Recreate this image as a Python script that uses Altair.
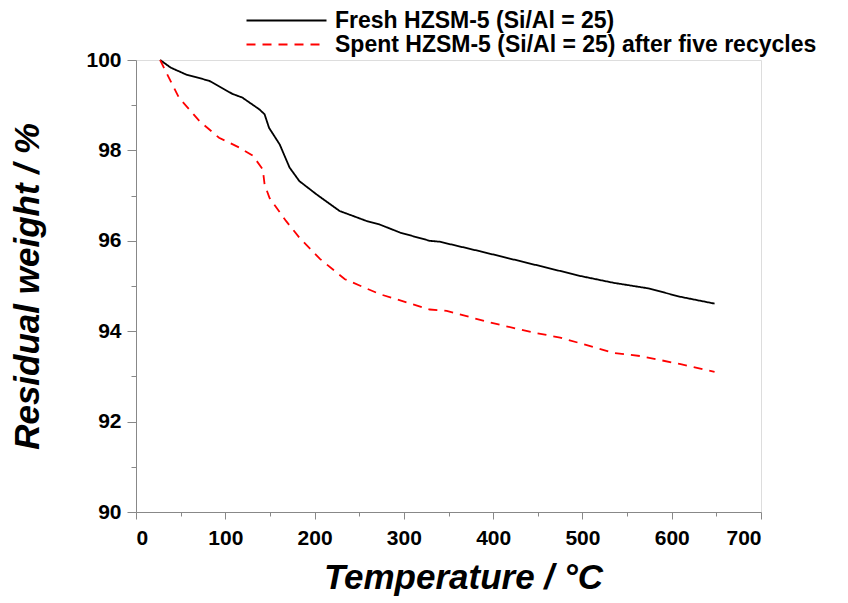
import altair as alt
import pandas as pd

fresh_label = "Fresh HZSM-5 (Si/Al = 25)"
spent_label = "Spent HZSM-5 (Si/Al = 25) after five recycles"

fresh_T = [27, 39, 56, 82, 108, 119, 138, 144, 149, 161, 172, 183, 202, 228, 258, 273, 296, 329, 340, 385, 453, 498, 535, 573, 610, 648]
fresh_W = [100, 99.83, 99.68, 99.54, 99.25, 99.17, 98.91, 98.80, 98.50, 98.13, 97.62, 97.32, 97.03, 96.66, 96.44, 96.36, 96.18, 96.0, 95.98, 95.77, 95.44, 95.22, 95.07, 94.95, 94.76, 94.61]

spent_T = [27, 33, 48, 71, 93, 116, 131, 142, 144, 149.5, 168, 183, 206, 234, 273, 329, 348, 397, 445, 475, 535, 565, 610, 648]
spent_W = [100, 99.76, 99.17, 98.65, 98.28, 98.06, 97.88, 97.58, 97.25, 96.95, 96.44, 96.07, 95.6, 95.15, 94.82, 94.48, 94.45, 94.19, 93.97, 93.86, 93.52, 93.45, 93.27, 93.10]

x_major = [0, 100, 200, 300, 400, 500, 600, 700]
x_minor = [50, 150, 250, 350, 450, 550, 650]
y_major = [90, 92, 94, 96, 98, 100]
y_minor = [91, 93, 95, 97, 99]

df = pd.concat([
    pd.DataFrame({"T": fresh_T, "W": fresh_W, "series": fresh_label, "order": range(len(fresh_T))}),
    pd.DataFrame({"T": spent_T, "W": spent_W, "series": spent_label, "order": range(len(spent_T))}),
])

FONT = "Liberation Sans"
xscale = alt.Scale(domain=[0, 700], nice=False, zero=False)
yscale = alt.Scale(domain=[90, 100], nice=False, zero=False)
domain_series = [fresh_label, spent_label]


def make_legend():
    return alt.Legend(title=None, orient="none", legendX=139, legendY=-51,
                      symbolType="M-4,0H4", symbolSize=400, symbolStrokeWidth=2,
                      symbolFillColor="transparent",
                      labelFontSize=23, labelFont=FONT, labelFontWeight="bold", labelColor="#000000",
                      labelOffset=37, rowPadding=0, labelLimit=0)


lines = alt.Chart(df).mark_line(strokeWidth=1.8, clip=False).encode(
    x=alt.X("T:Q", scale=xscale, axis=alt.Axis(
        values=x_major, orient="bottom", title="Temperature / °C", tickSize=7, labelPadding=8,
        labelFontSize=21, labelFontWeight="bold", titleFontSize=35, titleFontWeight="bold",
        titlePadding=12, titleFontStyle="italic", titleX=327, format="d", grid=False)),
    y=alt.Y("W:Q", scale=yscale, axis=alt.Axis(
        values=y_major, orient="left", title="Residual weight / %", tickSize=9, labelPadding=6,
        labelFontSize=21, labelFontWeight="bold", titleFontSize=35, titleFontWeight="bold",
        titlePadding=40, titleFontStyle="italic", format="d", grid=False)),
    color=alt.Color("series:N", scale=alt.Scale(domain=domain_series, range=["#000000", "#ff0000"]),
                    legend=make_legend()),
    strokeDash=alt.StrokeDash("series:N", scale=alt.Scale(domain=domain_series, range=[[1, 0], [9, 7]]),
                              legend=make_legend()),
    order="order:Q",
)

minor = alt.Chart(df).mark_line(opacity=0).encode(
    x=alt.X("T:Q", scale=xscale, axis=alt.Axis(values=x_minor, orient="bottom", title=None, labels=False,
                                               domain=False, tickSize=4, grid=False)),
    y=alt.Y("W:Q", scale=yscale, axis=alt.Axis(values=y_minor, orient="left", title=None, labels=False,
                                               domain=False, tickSize=5, grid=False)),
    detail="series:N",
)

chart = alt.layer(lines, minor).resolve_axis(x="independent", y="independent").properties(
    width=625, height=452,
    autosize=alt.AutoSizeParams(type="none"),
    padding={"left": 136, "top": 60, "right": 87, "bottom": 91},
).configure_view(stroke=None).configure_axis(
    labelFont=FONT, titleFont=FONT, labelFontWeight="bold", titleFontWeight="bold",
    labelColor="#000000", titleColor="#000000", domainColor="#000000", tickColor="#000000",
    domainWidth=2, tickWidth=2, grid=False,
).configure(background="white")

chart.save("out.html", embed_options={"renderer": "svg", "actions": False})
